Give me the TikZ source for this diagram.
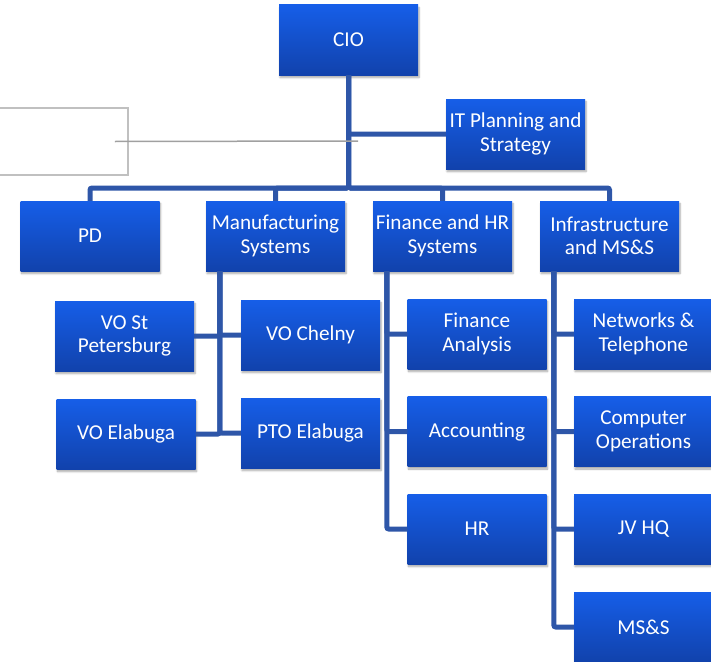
\documentclass[tikz,border=0pt]{standalone}
\usepackage{fontspec}
\setmainfont{Carlito}
\usetikzlibrary{calc,shadows.blur}
\definecolor{boxtop}{RGB}{22,94,232}
\definecolor{boxbot}{RGB}{17,66,172}
\definecolor{conn}{RGB}{46,86,168}
\definecolor{gbox}{RGB}{192,192,192}
\definecolor{gline}{RGB}{160,160,160}
\tikzset{
  orgbox/.style={rectangle, minimum width=139pt, minimum height=70pt, inner sep=1pt,
    align=center, text=white, top color=boxtop, bottom color=boxbot, draw=none,
    font=\fontsize{21.2}{23.5}\selectfont,
    blur shadow={shadow xshift=1pt, shadow yshift=-2.5pt, shadow opacity=35, shadow blur steps=6}},
  link/.style={draw=conn, line width=5pt, rounded corners=2pt},
  graybox/.style={rectangle, draw=gbox, line width=1.5pt, minimum width=139pt, minimum height=67pt},
  grayline/.style={draw=gline, line width=1.5pt}
}
\begin{document}
\begin{tikzpicture}[x=1pt,y=-1pt]
\clip (0,0) rectangle (711,661);
% gray box (behind)
\node[graybox] (gb) at (58.5,141.5) {};
% nodes
\node[orgbox] (CIO) at (348.5,40) {CIO};
\node[orgbox] (ITP) at (515.5,134) {IT Planning and\\Strategy};
\node[orgbox] (PD) at (90,236) {PD};
\node[orgbox] (MS) at (275.5,236) {Manufacturing\\Systems};
\node[orgbox] (FHR) at (442.5,236) {Finance and HR\\Systems};
\node[orgbox] (INF) at (609.5,236) {Infrastructure\\and MS\&S};
\node[orgbox] (VOSP) at (124.5,336) {VO St\\Petersburg};
\node[orgbox] (VOC) at (310.5,335) {VO Chelny};
\node[orgbox] (VOE) at (126,434) {VO Elabuga};
\node[orgbox] (PTO) at (310.5,433) {PTO Elabuga};
\node[orgbox] (FA) at (477,334) {Finance\\Analysis};
\node[orgbox] (ACC) at (477,431.5) {Accounting};
\node[orgbox] (HR) at (477,529) {HR};
\node[orgbox] (NT) at (643.5,334) {Networks \&\\Telephone};
\node[orgbox] (CO) at (643.5,431.5) {Computer\\Operations};
\node[orgbox] (JV) at (643.5,529) {JV HQ};
\node[orgbox] (MSS) at (643.5,627) {MS\&S};
% connectors
\coordinate (bus) at (348.5,188);
\draw[link] (CIO.south) |- (ITP.west);
\draw[link] (CIO.south) -- (bus) -| (PD.north);
\draw[link] (CIO.south) -- (bus) -| (MS.north);
\draw[link] (CIO.south) -- (bus) -| (FHR.north);
\draw[link] (CIO.south) -- (bus) -| (INF.north);
\coordinate (msl) at ($(MS.south west)+(14,0)$);
\draw[link] (msl) |- (VOSP.east);
\draw[link] (msl) |- (VOC.west);
\draw[link] (msl) |- (VOE.east);
\draw[link] (msl) |- (PTO.west);
\coordinate (fl) at ($(FHR.south west)+(14,0)$);
\draw[link] (fl) |- (FA.west);
\draw[link] (fl) |- (ACC.west);
\draw[link] (fl) |- (HR.west);
\coordinate (il) at ($(INF.south west)+(14,0)$);
\draw[link] (il) |- (NT.west);
\draw[link] (il) |- (CO.west);
\draw[link] (il) |- (JV.west);
\draw[link] (il) |- (MSS.west);
% gray line on top
\coordinate (gl) at (358,141);
\draw[grayline] ($(gb.east)+(-14,0)$) -- (gl);
\end{tikzpicture}
\end{document}
